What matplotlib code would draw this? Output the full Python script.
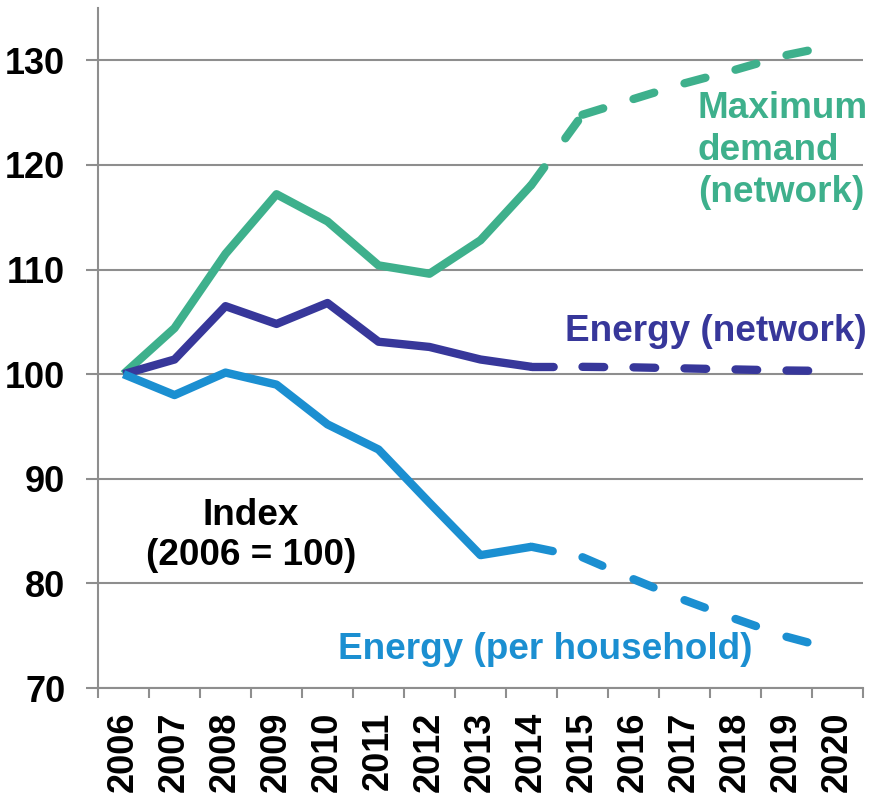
"""
Electricity demand index chart (2006 = 100), actuals and projections
"""

import matplotlib.pyplot as plt
import numpy as np

plt.rcParams['font.family'] = ['Liberation Sans', 'DejaVu Sans']
plt.rcParams['font.weight'] = 'bold'

# Data
years = [str(y) for y in range(2006, 2021)]
max_demand = [100, 104.4, 111.5, 117.2, 114.6, 110.4, 109.6, 112.8, 118.1]
max_demand_proj = [118.1, 124.8, 126.3, 127.8, 129.1, 130.5, 131.5]
energy_network = [100, 101.4, 106.5, 104.8, 106.8, 103.1, 102.6, 101.4, 100.7]
energy_network_proj = [100.7, 100.7, 100.65, 100.55, 100.45, 100.35, 100.3]
energy_household = [100, 98.0, 100.15, 99.0, 95.2, 92.8, 87.7, 82.7, 83.5]
energy_household_proj = [83.5, 82.5, 80.4, 78.4, 76.6, 74.9, 73.6]

GREEN = '#3eb08c'
PURPLE = '#37379a'
BLUE = '#1b8fd1'
GRID = '#8e8e8e'
LW = 6
LABEL_SIZE = 26.6

fig = plt.figure(figsize=(8.75, 8), dpi=100)
ax = fig.add_axes([98 / 875, 112 / 800, 765 / 875, 680 / 800])

x_actual = np.arange(len(max_demand))
x_proj = np.arange(len(max_demand) - 1, len(years))

series = [
    (max_demand, max_demand_proj, GREEN),
    (energy_network, energy_network_proj, PURPLE),
    (energy_household, energy_household_proj, BLUE),
]

for actual, proj, color in series:
    ax.plot(x_actual, actual, color=color, lw=LW,
            solid_joinstyle='round', solid_capstyle='butt', zorder=3)
    # dash pattern restarts at every point, like the original chart
    for i in range(len(proj) - 1):
        ax.plot(x_proj[i:i + 2], proj[i:i + 2], color=color, lw=LW,
                linestyle=(0, (2.6, 4.3)), dash_capstyle='round', zorder=3)

# Axes styling
ax.set_xlim(-0.5, len(years) - 0.5)
ax.set_ylim(70, 135)
ax.set_yticks(np.arange(70, 131, 10))
ax.set_xticks(np.arange(len(years)))
ax.set_xticklabels(years, rotation=90)
ax.set_xticks(np.arange(len(years) + 1) - 0.5, minor=True)

ax.grid(axis='y', color=GRID, lw=1.5, zorder=1)
for side in ['top', 'right']:
    ax.spines[side].set_visible(False)
for side in ['left', 'bottom']:
    ax.spines[side].set_color(GRID)
    ax.spines[side].set_linewidth(1.5)

ax.tick_params(axis='y', length=8.5, width=1.5, color=GRID, pad=15,
               labelsize=26)
ax.tick_params(axis='x', which='major', length=0, pad=17, labelsize=26)
ax.tick_params(axis='x', which='minor', length=7, width=1.5, color=GRID)

# Annotations
ax.text(11.26, 121.4, 'Maximum\ndemand\n(network)', color=GREEN,
        fontsize=LABEL_SIZE, ha='left', va='center', linespacing=1.25)
ax.text(8.66, 104.1, 'Energy (network)', color=PURPLE,
        fontsize=LABEL_SIZE, ha='left', va='center')
ax.text(4.21, 73.7, 'Energy (per household)', color=BLUE,
        fontsize=LABEL_SIZE, ha='left', va='center')
ax.text(2.5, 84.6, 'Index\n(2006 = 100)', color='black',
        fontsize=LABEL_SIZE, ha='center', va='center', multialignment='center')

fig.savefig('out.png', dpi=100)
